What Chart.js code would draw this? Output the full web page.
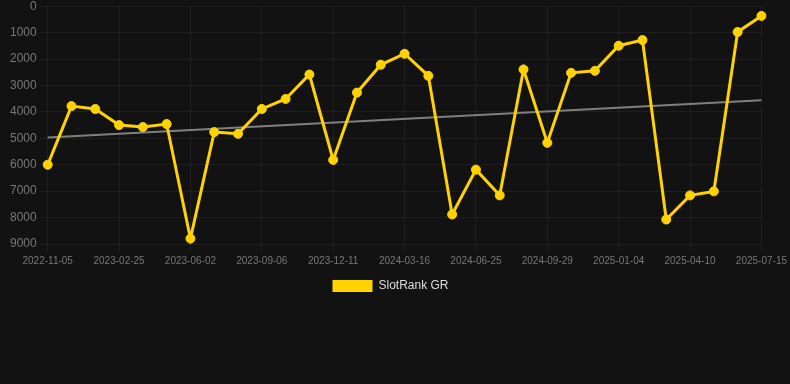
<!DOCTYPE html>
<html>
<head>
<meta charset="utf-8">
<script src="https://cdn.jsdelivr.net/npm/chart.js@4"></script>
<style>
  html, body { margin: 0; padding: 0; background: #121212; overflow: hidden; }
  #wrap { width: 790px; height: 306px; position: relative; top: -4px; }
</style>
</head>
<body>
<div id="wrap"><canvas id="c"></canvas></div>
<script>
const labels = [
  "2022-11-05","2022-12-12","2023-01-18","2023-02-25","2023-04-03","2023-05-03",
  "2023-06-02","2023-07-05","2023-08-06","2023-09-06","2023-10-08","2023-11-09",
  "2023-12-11","2024-01-12","2024-02-13","2024-03-16","2024-04-18","2024-05-22",
  "2024-06-25","2024-07-28","2024-08-29","2024-09-29","2024-10-31","2024-12-03",
  "2025-01-04","2025-02-05","2025-03-09","2025-04-10","2025-05-12","2025-06-13",
  "2025-07-15"
];
const rankValues = [
  6000, 3780, 3890, 4500, 4575, 4460,
  8795, 4765, 4830, 3890, 3510, 2585,
  5817, 3270, 2217, 1800, 2635, 7882,
  6186, 7160, 2395, 5171, 2522, 2446,
  1496, 1280, 8073, 7160, 7008, 976,
  368
];
const trendStart = 4970;
const trendEnd = 3560;
const trendValues = labels.map((_, i) => i === 0 ? trendStart : (i === labels.length - 1 ? trendEnd : null));

const GOLD = 'rgb(255,210,0)';
const GRID = 'rgba(255,255,255,0.05)';

Chart.defaults.font.family = "'Liberation Sans', Arial, Helvetica, sans-serif";

const shiftLegend = {
  id: 'shiftLegend',
  afterLayout(chart) {
    if (chart.legend) { chart.legend.left -= 8; chart.legend.right -= 8; }
  }
};

new Chart(document.getElementById('c'), {
  type: 'line',
  data: {
    labels: labels,
    datasets: [
      {
        label: 'SlotRank GR',
        data: rankValues,
        borderColor: GOLD,
        backgroundColor: GOLD,
        borderWidth: 3,
        pointRadius: 4.5,
        pointBorderWidth: 1,
        pointHoverRadius: 4.5,
        pointBackgroundColor: GOLD,
        pointBorderColor: GOLD,
        tension: 0,
        order: 1
      },
      {
        label: 'trend',
        data: trendValues,
        borderColor: 'rgba(140,140,140,0.9)',
        backgroundColor: 'rgba(140,140,140,0.9)',
        borderWidth: 2,
        pointRadius: 0,
        spanGaps: true,
        order: 2
      }
    ]
  },
  plugins: [shiftLegend],
  options: {
    responsive: true,
    maintainAspectRatio: false,
    animation: false,
    layout: { padding: { left: 7, top: 0, right: 0, bottom: 0 } },
    plugins: {
      legend: {
        position: 'bottom',
        labels: {
          color: '#dddddd',
          font: { size: 12 },
          boxWidth: 40,
          boxHeight: 12,
          generateLabels: (chart) => [{
            text: chart.data.datasets[0].label,
            fillStyle: GOLD,
            strokeStyle: GOLD,
            lineWidth: 0,
            fontColor: '#dddddd',
            datasetIndex: 0,
            hidden: false
          }]
        }
      },
      tooltip: { enabled: false }
    },
    scales: {
      x: {
        grid: {
          color: (ctx) => (ctx.index % 3 === 0 ? GRID : 'rgba(0,0,0,0)'),
          drawTicks: true
        },
        border: { display: false },
        ticks: {
          color: '#777777',
          font: { size: 10 },
          maxRotation: 0,
          autoSkip: false,
          callback: function(value, index) { return index % 3 === 0 ? this.getLabelForValue(value) : ''; }
        }
      },
      y: {
        reverse: true,
        min: 0,
        max: 9000,
        grid: { color: GRID },
        border: { display: false },
        ticks: {
          color: '#777777',
          font: { size: 12 },
          stepSize: 1000,
          callback: (v) => String(v)
        }
      }
    }
  }
});
</script>
</body>
</html>
